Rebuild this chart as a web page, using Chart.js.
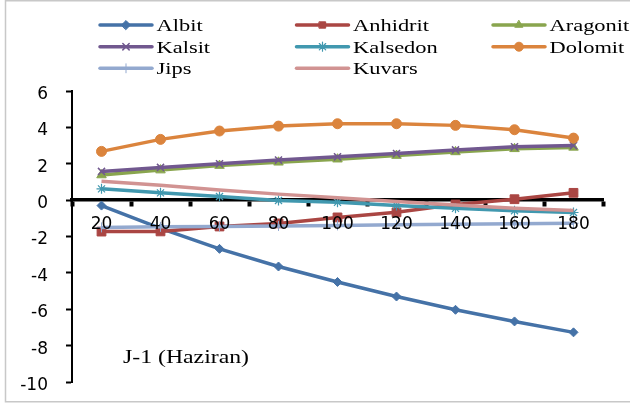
<!DOCTYPE html>
<html>
<head>
<meta charset="utf-8">
<script src="https://cdn.jsdelivr.net/npm/chart.js@4/dist/chart.umd.min.js"></script>
<style>
  html, body { margin: 0; padding: 0; background: #fff; }
  #wrap { width: 630px; height: 403px; position: relative; }
</style>
</head>
<body>
<div id="wrap"><canvas id="c" width="630" height="403"></canvas></div>
<script>
// Temperature steps (x categories)
const categories = ['20', '40', '60', '80', '100', '120', '140', '160', '180'];

// Saturation index per mineral
const albit    = [-0.30, -1.55, -2.68, -3.65, -4.50, -5.30, -6.03, -6.67, -7.27];
const anhidrit = [-1.73, -1.72, -1.45, -1.28, -0.95, -0.67, -0.24, 0.05, 0.40];
const aragonit = [1.38, 1.65, 1.90, 2.08, 2.25, 2.45, 2.65, 2.82, 2.90];
const kalsit   = [1.58, 1.80, 2.00, 2.20, 2.38, 2.56, 2.76, 2.93, 3.00];
const kalsedon = [0.62, 0.40, 0.20, -0.02, -0.12, -0.30, -0.45, -0.58, -0.68];
const dolomit  = [2.68, 3.34, 3.80, 4.07, 4.20, 4.20, 4.11, 3.87, 3.41];
const jips     = [-1.50, -1.47, -1.45, -1.42, -1.39, -1.36, -1.33, -1.30, -1.27];
const kuvars   = [1.04, 0.82, 0.56, 0.33, 0.13, -0.08, -0.27, -0.45, -0.57];

const seriesNames = ['Albit', 'Anhidrit', 'Aragonit', 'Kalsit', 'Kalsedon', 'Dolomit', 'Jips', 'Kuvars'];
const seriesData  = [albit, anhidrit, aragonit, kalsit, kalsedon, dolomit, jips, kuvars];

// Y axis tick labels
const yTicks = [6, 4, 2, 0, -2, -4, -6, -8, -10];
const chartLabel = 'J-1 (Haziran)';

const colors = ['#4572A7', '#AA4643', '#89A54E', '#71588F', '#4198AF', '#DB843D', '#93A9CF', '#D19392'];
const markers = [
  { style: 'rectRot', radius: 4.5, bw: 1 },
  { style: 'rect', radius: 6.2, bw: 1 },
  { style: 'triangle', radius: 5.5, bw: 1 },
  { style: 'crossRot', radius: 5, bw: 1.5 },
  { style: 'star', radius: 5, bw: 1.2 },
  { style: 'circle', radius: 5, bw: 1 },
  { style: 'cross', radius: 5, bw: 1 },
  { style: false, radius: 0, bw: 0 }
];

const datasets = seriesNames.map((name, i) => ({
  label: name,
  data: seriesData[i],
  borderColor: colors[i],
  backgroundColor: colors[i],
  borderWidth: 3.5,
  pointStyle: markers[i].style,
  pointRadius: markers[i].radius,
  pointBorderWidth: markers[i].bw,
  pointBackgroundColor: colors[i],
  pointBorderColor: colors[i],
  tension: 0,
  order: seriesNames.length - 1 - i
}));

// Text drawn with the same horizontal stretch as the rest of the figure's serif text
function wideText(ctx, text, x, y, sx) {
  ctx.save();
  ctx.translate(x, y);
  ctx.scale(sx, 1);
  ctx.fillText(text, 0, 0);
  ctx.restore();
}

// Legend in a fixed 3-column grid, plus the panel caption and frame
const decorations = {
  id: 'decorations',
  afterDraw(chart) {
    const ctx = chart.ctx;
    ctx.save();
    // outer frame
    ctx.strokeStyle = '#c8c8c8';
    ctx.lineWidth = 1.5;
    ctx.strokeRect(5.5, 0.75, 640, 401);

    const colX = [100, 296.5, 493];
    const rowY = [25, 46.7, 68.3];
    ctx.font = '17px "Liberation Serif", "Times New Roman", serif';
    ctx.textBaseline = 'alphabetic';
    ctx.textAlign = 'left';
    chart.data.datasets.forEach((ds, i) => {
      const x = colX[i % 3];
      const y = rowY[Math.floor(i / 3)];
      ctx.strokeStyle = ds.borderColor;
      ctx.lineWidth = 3.5;
      ctx.lineCap = 'round';
      ctx.beginPath();
      ctx.moveTo(x, y);
      ctx.lineTo(x + 52, y);
      ctx.stroke();
      if (ds.pointStyle) {
        ctx.fillStyle = ds.pointBackgroundColor;
        ctx.strokeStyle = ds.pointBorderColor;
        ctx.lineWidth = ds.pointBorderWidth;
        Chart.helpers.drawPoint(ctx, {
          pointStyle: ds.pointStyle,
          radius: Math.min(ds.pointRadius, 4.5),
          borderWidth: ds.pointBorderWidth,
          rotation: 0
        }, x + 26, y);
      }
      ctx.fillStyle = '#000';
      wideText(ctx, ds.label, x + 56.5, y + 6, 1.32);
    });

    ctx.font = '18px "Liberation Serif", "Times New Roman", serif';
    ctx.fillStyle = '#000';
    wideText(ctx, chartLabel, 123, 363, 1.32);
    ctx.restore();
  }
};

new Chart(document.getElementById('c'), {
  type: 'line',
  data: { labels: categories, datasets },
  options: {
    responsive: false,
    animation: false,
    devicePixelRatio: 1,
    layout: { padding: { top: 91, right: 27, bottom: 21, left: 0 } },
    plugins: { legend: { display: false }, tooltip: { enabled: false } },
    scales: {
      x: {
        type: 'category',
        position: { y: 0 },
        offset: true,
        grid: {
          display: true,
          drawOnChartArea: false,
          drawTicks: true,
          offset: true,
          tickLength: 5,
          tickWidth: 4,
          tickColor: '#000'
        },
        border: { display: true, color: '#000', width: 3.5 },
        ticks: {
          color: '#000',
          padding: 9,
          z: 1,
          maxRotation: 0,
          autoSkip: false,
          font: { family: '"DejaVu Sans", Verdana, sans-serif', size: 17 }
        }
      },
      y: {
        min: -10,
        max: 6,
        afterBuildTicks(scale) { scale.ticks = yTicks.map(v => ({ value: v })); },
        afterFit(scale) {
          scale.width = 72;
          scale.paddingTop = 10;
          scale.paddingBottom = 10;
        },
        grid: {
          display: true,
          drawOnChartArea: false,
          drawTicks: true,
          tickLength: 6,
          tickWidth: 2,
          tickColor: '#000'
        },
        border: { display: true, color: '#000', width: 2 },
        ticks: {
          color: '#000',
          padding: 18,
          labelOffset: 3.5,
          font: { family: '"DejaVu Sans", Verdana, sans-serif', size: 17 }
        }
      }
    }
  },
  plugins: [decorations]
});
</script>
</body>
</html>
